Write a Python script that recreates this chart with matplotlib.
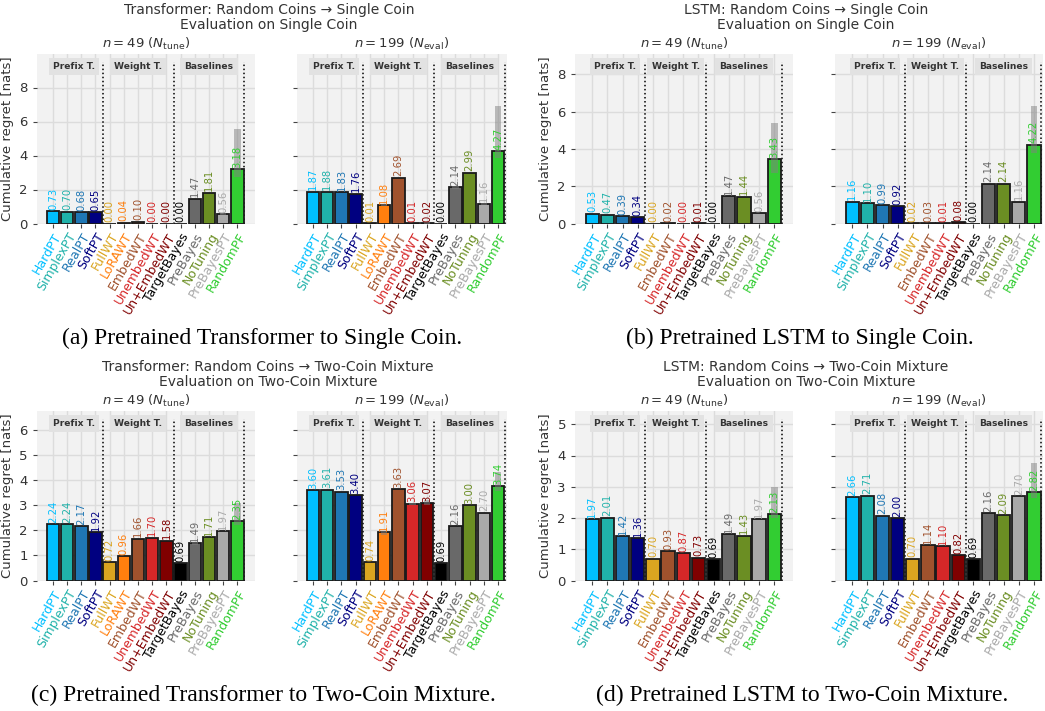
import numpy as np
import matplotlib.pyplot as plt

tf_models = ['HardPT', 'SimplexPT', 'RealPT', 'SoftPT', 'FullWT', 'LoRAWT', 'EmbedWT',
             'UnembedWT', 'Un+EmbedWT', 'TargetBayes', 'PreBayes', 'NoTuning',
             'PreBayesPT', 'RandomPF']
lstm_models = ['HardPT', 'SimplexPT', 'RealPT', 'SoftPT', 'FullWT', 'EmbedWT',
               'UnembedWT', 'Un+EmbedWT', 'TargetBayes', 'PreBayes', 'NoTuning',
               'PreBayesPT', 'RandomPF']

colors = {'HardPT': 'deepskyblue', 'SimplexPT': 'lightseagreen', 'RealPT': '#1f77b4',
          'SoftPT': 'navy', 'FullWT': 'goldenrod', 'LoRAWT': '#ff7f0e', 'EmbedWT': 'sienna',
          'UnembedWT': '#d62728', 'Un+EmbedWT': 'maroon', 'TargetBayes': 'black',
          'PreBayes': 'dimgray', 'NoTuning': 'olivedrab', 'PreBayesPT': 'darkgray',
          'RandomPF': 'limegreen'}

# cumulative regret values
tf_single_49 = [0.73, 0.70, 0.68, 0.65, 0.00, 0.04, 0.10, 0.00, 0.00, 0.00, 1.47, 1.81, 0.56, 3.18]
tf_single_199 = [1.87, 1.88, 1.83, 1.76, 0.01, 1.08, 2.69, 0.01, 0.02, 0.00, 2.14, 2.99, 1.16, 4.27]
lstm_single_49 = [0.53, 0.47, 0.39, 0.34, 0.00, 0.02, 0.00, 0.01, 0.00, 1.47, 1.44, 0.56, 3.43]
lstm_single_199 = [1.16, 1.10, 0.99, 0.92, 0.02, 0.03, 0.01, 0.08, 0.00, 2.14, 2.14, 1.16, 4.22]
tf_mix_49 = [2.24, 2.24, 2.17, 1.92, 0.72, 0.96, 1.66, 1.70, 1.58, 0.69, 1.49, 1.71, 1.97, 2.35]
tf_mix_199 = [3.60, 3.61, 3.53, 3.40, 0.74, 1.91, 3.63, 3.06, 3.07, 0.69, 2.16, 3.00, 2.70, 3.74]
lstm_mix_49 = [1.97, 2.01, 1.42, 1.36, 0.70, 0.93, 0.87, 0.73, 0.69, 1.49, 1.43, 1.97, 2.13]
lstm_mix_199 = [2.66, 2.71, 2.08, 2.00, 0.70, 1.14, 1.10, 0.82, 0.69, 2.16, 2.09, 2.70, 2.82]

# spread bands (low, high) where visible
tf_single_49_band = {'RandomPF': (2.75, 5.55), 'PreBayesPT': (0.52, 0.62)}
tf_single_199_band = {'RandomPF': (3.85, 6.9), 'PreBayes': (2.05, 2.2), 'PreBayesPT': (1.08, 1.22),
                      'LoRAWT': (1.03, 1.12), 'Un+EmbedWT': (0.0, 0.06)}
lstm_single_49_band = {'RandomPF': (2.7, 5.4)}
lstm_single_199_band = {'RandomPF': (3.8, 6.3)}
tf_mix_49_band = {'RandomPF': (2.2, 3.1), 'PreBayes': (1.42, 1.55)}
tf_mix_199_band = {'RandomPF': (3.55, 4.3), 'LoRAWT': (1.8, 1.98), 'Un+EmbedWT': (3.0, 3.2),
                   'UnembedWT': (3.0, 3.1)}
lstm_mix_49_band = {'RandomPF': (2.0, 3.0)}
lstm_mix_199_band = {'RandomPF': (2.65, 3.75)}

W, H = 1045, 711
fig = plt.figure(figsize=(W / 100, H / 100), dpi=100)
txt = '#333333'


def px_axes(x0, x1, y0, y1):
    return fig.add_axes([x0 / W, 1 - y1 / H, (x1 - x0) / W, (y1 - y0) / H])


def draw(ax, models, vals, band, ylim, yticks, left, title):
    n = len(models)
    x = np.arange(n)
    cols = [colors[m] for m in models]
    ax.set_facecolor('#f2f2f2')
    for s in ax.spines.values():
        s.set_visible(False)
    ax.grid(True, color='#dcdcdc', lw=1.0)
    ax.set_axisbelow(True)
    ax.bar(x, vals, width=0.88, color=cols, edgecolor='#1a1a1a', linewidth=1.3, zorder=2)
    for m, (lo, hi) in band.items():
        ax.bar(models.index(m), hi - lo, bottom=lo, width=0.45, color='grey', alpha=0.5,
               lw=0, zorder=3)
    for i, v in enumerate(vals):
        ax.text(i, v + ylim * 0.008, f'{v:.2f}', rotation=90, ha='center', va='bottom',
                fontsize=7.2, color=cols[i], zorder=4)
    tb = models.index('TargetBayes')
    for s in [3.5, tb - 0.5, n - 0.5]:
        ax.axvline(s, ymax=0.95, color='black', ls=':', lw=1.1, zorder=1)
    groups = [('Prefix T.', 1.5), ('Weight T.', (4 + tb - 1) / 2), ('Baselines', (tb + n - 1) / 2)]
    for g, gx in groups:
        ax.text(gx, 0.925, g, transform=ax.get_xaxis_transform(), ha='center', va='center',
                fontsize=6.6, fontweight='bold', color=txt,
                bbox=dict(boxstyle='square,pad=0.45', fc='#e2e2e2', ec='none'))
    ax.set_xlim(-1.14, n - 1 + (1.24 if left else 0.6))
    ax.set_ylim(0, ylim)
    ax.set_yticks(yticks)
    ax.set_xticks(x)
    ax.set_xticklabels(models, rotation=60, ha='right', rotation_mode='anchor')
    ax.tick_params(axis='both', length=3, color='#444444', labelcolor=txt, labelsize=9.5)
    ax.tick_params(axis='x', labelsize=9, pad=2)
    for lab, c in zip(ax.get_xticklabels(), cols):
        lab.set_color(c)
    if left:
        ax.set_ylabel('Cumulative regret [nats]', fontsize=9.5, color=txt, labelpad=4)
    else:
        ax.set_yticklabels([])
    ax.set_title(title, fontsize=9.5, color=txt, pad=4)


t49 = r'$n = 49$ ($N_{\rm tune}$)'
t199 = r'$n = 199$ ($N_{\rm eval}$)'

panels = [
    (tf_models, tf_single_49, tf_single_49_band, tf_single_199, tf_single_199_band,
     10.0, [0, 2, 4, 6, 8], (36.7, 255, 296.7, 506.7), 0,
     'Transformer: Random Coins \u2192 Single Coin\nEvaluation on Single Coin', 269,
     '(a) Pretrained Transformer to Single Coin.', 262),
    (lstm_models, lstm_single_49, lstm_single_49_band, lstm_single_199, lstm_single_199_band,
     9.11, [0, 2, 4, 6, 8], (575, 793, 835, 1043), 0,
     'LSTM: Random Coins \u2192 Single Coin\nEvaluation on Single Coin', 806,
     '(b) Pretrained LSTM to Single Coin.', 800),
    (tf_models, tf_mix_49, tf_mix_49_band, tf_mix_199, tf_mix_199_band,
     6.76, [0, 1, 2, 3, 4, 5, 6], (36.7, 255, 296.7, 506.7), 357,
     'Transformer: Random Coins \u2192 Two-Coin Mixture\nEvaluation on Two-Coin Mixture', 268,
     '(c) Pretrained Transformer to Two-Coin Mixture.', 263),
    (lstm_models, lstm_mix_49, lstm_mix_49_band, lstm_mix_199, lstm_mix_199_band,
     5.44, [0, 1, 2, 3, 4, 5], (575, 793, 835, 1043), 357,
     'LSTM: Random Coins \u2192 Two-Coin Mixture\nEvaluation on Two-Coin Mixture', 806,
     '(d) Pretrained LSTM to Two-Coin Mixture.', 802),
]

for (models, v49, b49, v199, b199, ylim, yt, xs, dy, title, tx, cap, cx) in panels:
    ax1 = px_axes(xs[0], xs[1], 53.5 + dy, 223.5 + dy)
    ax2 = px_axes(xs[2], xs[3], 53.5 + dy, 223.5 + dy)
    draw(ax1, models, v49, b49, ylim, yt, True, t49)
    draw(ax2, models, v199, b199, ylim, yt, False, t199)
    fig.text(tx / W, 1 - (3 + dy) / H, title, ha='center', va='top', fontsize=10,
             color=txt, linespacing=1.05)
    fig.text(cx / W, 1 - (338 + dy) / H, cap, ha='center', va='center', fontsize=17,
             family='Liberation Serif', color='black')

fig.savefig('out.png', dpi=100)
